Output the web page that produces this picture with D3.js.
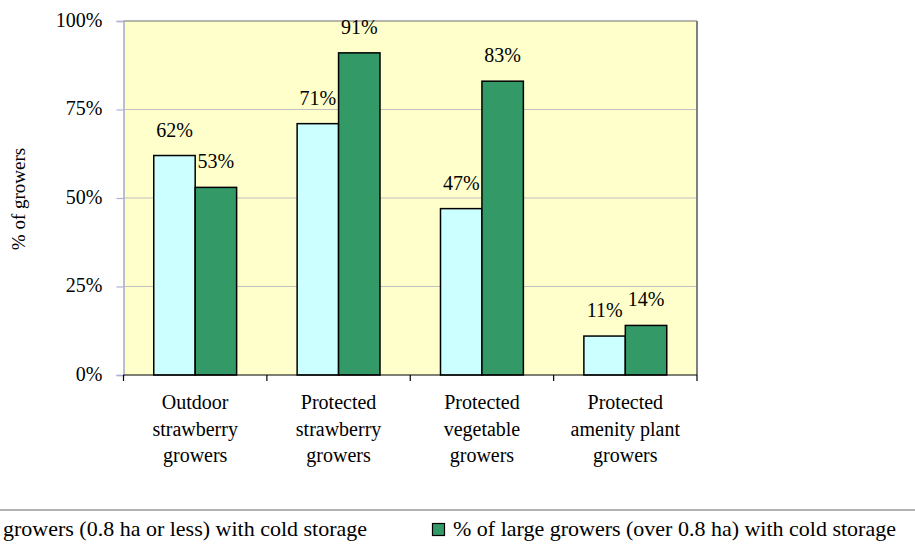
<!DOCTYPE html>
<html><head><meta charset="utf-8">
<script src="https://cdn.jsdelivr.net/npm/d3@7"></script>
</head>
<body style="margin:0;background:#fff"><svg id="c" width="915" height="552"></svg>
<script>
const categories = [["Outdoor","strawberry","growers"],["Protected","strawberry","growers"],["Protected","vegetable","growers"],["Protected","amenity plant","growers"]];
const seriesNames = ["% of small growers (0.8 ha or less) with cold storage","% of large growers (over 0.8 ha) with cold storage"];
const smallGrowers = [62,71,47,11];
const largeGrowers = [53,91,83,14];
const yTicks = [0,25,50,75,100];
const colors = ["#CCFFFF","#339966"];

const FONT = "'Liberation Serif'";
const svg = d3.select("#c");
const L=123.5, R=697, T=21, B=375;
const fs = 20;
function txt(sel){ return sel.style("font-family",FONT).attr("font-size",fs).attr("fill","#000"); }

svg.append("rect").attr("x",L).attr("y",T).attr("width",R-L).attr("height",B-T).attr("fill","#FFFFCC");

const x0 = d3.scaleBand().domain(d3.range(categories.length)).range([L,R]).paddingInner(0).paddingOuter(0);
const x1 = d3.scaleBand().domain([0,1]).range([0,x0.bandwidth()]).paddingInner(0).paddingOuter(0.73);
const y = d3.scaleLinear().domain([0,100]).range([B,T]);

svg.append("g").selectAll("line").data(yTicks.filter(d=>d>0&&d<100)).join("line")
  .attr("x1",L).attr("x2",R).attr("y1",d=>y(d)).attr("y2",d=>y(d))
  .attr("stroke","#c0c0c0").attr("stroke-width",1);

svg.append("line").attr("x1",L).attr("x2",R).attr("y1",T).attr("y2",T).attr("stroke","#707070").attr("stroke-width",1.2);
svg.append("line").attr("x1",R).attr("x2",R).attr("y1",T).attr("y2",B).attr("stroke","#808080").attr("stroke-width",2);

const yAxis = d3.axisLeft(y).tickValues(yTicks).tickFormat(d=>d+"%").tickSize(7).tickPadding(14);
const ya = svg.append("g").attr("transform",`translate(${L},0)`).call(yAxis);
ya.attr("font-family",null).attr("font-size",null);
ya.select(".domain").attr("stroke","#a8a8c8").attr("stroke-width",1.5);
ya.selectAll(".tick line").attr("stroke","#b0b0d8").attr("stroke-width",1.2);
txt(ya.selectAll("text")).attr("dy","0.27em");

const data = [smallGrowers, largeGrowers];
const groups = svg.append("g").selectAll("g").data(categories.map((c,i)=>i)).join("g")
  .attr("transform",i=>`translate(${x0(i)},0)`);
groups.selectAll("rect").data(i=>data.map((s,k)=>({k,v:s[i]}))).join("rect")
  .attr("x",d=>x1(d.k)).attr("width",x1.bandwidth())
  .attr("y",d=>y(d.v)).attr("height",d=>B-y(d.v))
  .attr("fill",d=>colors[d.k]).attr("stroke","#000").attr("stroke-width",1.5);
txt(groups.selectAll("text").data(i=>data.map((s,k)=>({k,v:s[i]}))).join("text"))
  .attr("x",d=>x1(d.k)+x1.bandwidth()/2).attr("y",d=>y(d.v)-19)
  .attr("text-anchor","middle")
  .text(d=>d.v+"%");

const xa = svg.append("g").attr("transform",`translate(0,${B})`);
xa.append("line").attr("x1",L).attr("x2",R).attr("stroke","#000").attr("stroke-width",1.2);
xa.selectAll(".tk").data(d3.range(categories.length+1)).join("line").attr("class","tk")
  .attr("x1",i=>L+i*x0.bandwidth()).attr("x2",i=>L+i*x0.bandwidth()).attr("y1",0).attr("y2",6)
  .attr("stroke","#000").attr("stroke-width",1.2);
categories.forEach((lines,i)=>{
  const t = txt(xa.append("text")).attr("text-anchor","middle").attr("x",x0(i)+x0.bandwidth()/2);
  lines.forEach((ln,j)=>t.append("tspan").attr("x",x0(i)+x0.bandwidth()/2).attr("y",34+j*26.5).text(ln));
});

txt(svg.append("text")).attr("transform","translate(25,199) rotate(-90)").attr("text-anchor","middle")
  .attr("font-size",19).text("% of growers");

svg.append("line").attr("x1",0).attr("x2",915).attr("y1",510).attr("y2",510).attr("stroke","#666").attr("stroke-width",1.2);
txt(svg.append("text")).attr("transform","translate(367,536) scale(1.1,1)").attr("text-anchor","end").text(seriesNames[0]);
svg.append("rect").attr("x",432.5).attr("y",523.5).attr("width",12).attr("height",12).attr("fill",colors[1]).attr("stroke","#000").attr("stroke-width",1.2);
txt(svg.append("text")).attr("transform","translate(453,536) scale(1.1,1)").text(seriesNames[1]);
</script></body></html>
